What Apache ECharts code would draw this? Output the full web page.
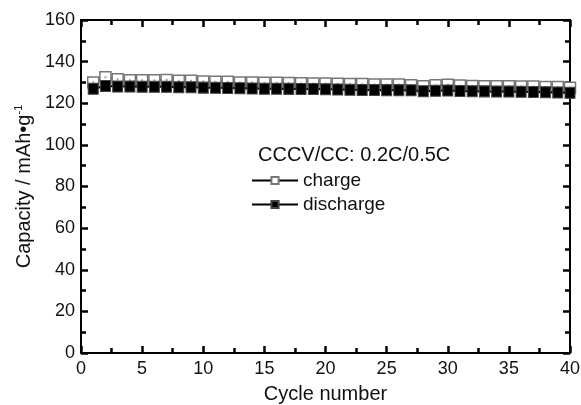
<!DOCTYPE html>
<html>
<head>
<meta charset="utf-8">
<script src="https://cdn.jsdelivr.net/npm/echarts@6/dist/echarts.min.js"></script>
<style>html,body{margin:0;padding:0;background:#fff}#c{width:581px;height:405px}</style>
</head>
<body>
<div id="c"></div>
<script>
var cycles = [];
for (var i = 1; i <= 40; i++) cycles.push(i);
var charge = [130,132.5,131.5,131,131,131,131.2,130.8,130.8,130.5,130.3,130.3,130,130,129.8,129.8,129.7,129.6,129.5,129.5,129.4,129.2,129.2,129,129,129,128.7,128.2,128.6,128.9,128.5,128.3,128.2,128.2,128.2,128,128,127.8,127.8,127.5];
var discharge = [127,128.3,128,128,127.9,127.9,127.9,127.7,127.7,127.5,127.4,127.3,127.2,127.1,127,127,126.9,126.8,126.8,126.7,126.6,126.5,126.4,126.4,126.3,126.3,126.2,125.8,126,126.1,125.9,125.8,125.7,125.6,125.6,125.5,125.4,125.3,125.2,125];

function pairs(v){ return v.map(function(y,i){ return [cycles[i], y]; }); }

var FONT = 'Liberation Sans, Arial, sans-serif';
var chart = echarts.init(document.getElementById('c'));
function ax(extra){
  return Object.assign({
    axisLine: {show: true, onZero: false, lineStyle: {color: '#000', width: 2}},
    axisTick: {show: true, inside: true, length: 7, lineStyle: {color: '#000', width: 2.5}},
    minorTick: {show: true, splitNumber: 2, length: 5, lineStyle: {color: '#000', width: 2.5}},
    splitLine: {show: false}
  }, extra);
}
chart.setOption({
  animation: false,
  backgroundColor: '#fff',
  grid: {left: 81, right: 11, top: 20, bottom: 52, outerBoundsMode: 'none'},
  xAxis: [
    ax({
      type: 'value', min: 0, max: 40, interval: 5, position: 'bottom',
      name: 'Cycle number', nameLocation: 'middle', nameGap: 31,
      nameTextStyle: {fontFamily: FONT, fontSize: 20, color: '#111'},
      axisLabel: {fontFamily: FONT, fontSize: 18, color: '#111', margin: 7}
    }),
    ax({type: 'value', min: 0, max: 40, interval: 5, position: 'top', axisLabel: {show: false}})
  ],
  yAxis: [
    ax({
      type: 'value', min: 0, max: 160, interval: 20, position: 'left',
      name: 'Capacity / mAh•g{sup|-1}', nameLocation: 'middle', nameGap: 45,
      nameTextStyle: {fontFamily: FONT, fontSize: 20, color: '#111',
        rich: {sup: {fontFamily: FONT, fontSize: 11, color: '#111', verticalAlign: 'top', padding: [0,0,10,0]}}},
      axisLabel: {fontFamily: FONT, fontSize: 18, color: '#111', margin: 6}
    }),
    ax({type: 'value', min: 0, max: 160, interval: 20, position: 'right', axisLabel: {show: false}})
  ],
  legend: {
    orient: 'vertical', left: 246, top: 166, itemWidth: 46, itemHeight: 9, itemGap: 5,
    textStyle: {fontFamily: FONT, fontSize: 19, color: '#111'},
    data: ['charge', 'discharge']
  },
  graphic: [{
    type: 'text', left: 258, top: 145,
    style: {text: 'CCCV/CC: 0.2C/0.5C', font: '20px ' + FONT, fill: '#111'}
  }],
  series: [
    {
      name: 'charge', type: 'line', data: pairs(charge),
      symbol: 'rect', symbolSize: [11, 11], showAllSymbol: true,
      lineStyle: {color: '#000', width: 2},
      itemStyle: {color: '#fff', borderColor: '#777', borderWidth: 1.5},
      z: 2
    },
    {
      name: 'chargeDot', type: 'scatter', data: pairs(charge),
      symbol: 'rect', symbolSize: 2, itemStyle: {color: '#888'}, z: 3, silent: true
    },
    {
      name: 'discharge', type: 'line', data: pairs(discharge),
      symbol: 'rect', symbolSize: [10, 11], showAllSymbol: true,
      lineStyle: {color: '#000', width: 2},
      itemStyle: {color: '#000', borderColor: '#444', borderWidth: 1},
      z: 4
    }
  ]
});
</script>
</body>
</html>
